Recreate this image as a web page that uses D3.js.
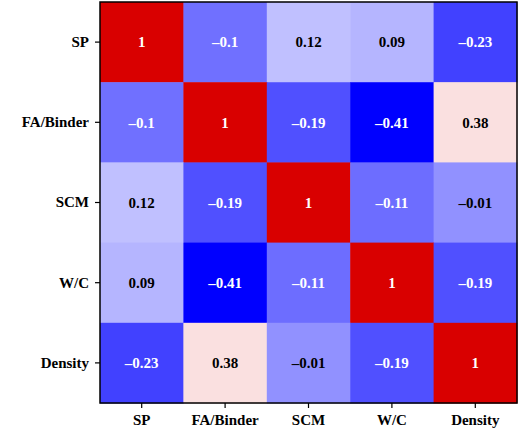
<!DOCTYPE html><html><head><meta charset="utf-8"><script src="https://cdn.jsdelivr.net/npm/d3@7"></script>
<style>body{margin:0;background:#fff}text{font-family:"Liberation Serif","Times New Roman",serif;font-weight:bold}</style></head><body>
<script>
const categories=["SP","FA/Binder","SCM","W/C","Density"];
const values=[[1,-0.1,0.12,0.09,-0.23],[-0.1,1,-0.19,-0.41,0.38],[0.12,-0.19,1,-0.11,-0.01],[0.09,-0.41,-0.11,1,-0.19],[-0.23,0.38,-0.01,-0.19,1]];
const fmt=v=>v===1?"1":String(v).replace("-","\u2013").replace(/^(\u2013?)0\./,"$10.");
const W=520,H=438,m={l:100,t:2,r:3,b:35};
const svg=d3.select("body").append("svg").attr("width",W).attr("height",H);
const x=d3.scaleBand().domain(categories).range([m.l,W-m.r]);
const y=d3.scaleBand().domain(categories).range([m.t,H-m.b]);
const color=d3.scaleLinear().domain([-0.41,0.295,1]).range(["#0000ff","#ffffff","#d90000"]);
const cells=[];values.forEach((r,i)=>r.forEach((v,j)=>cells.push({r:categories[i],c:categories[j],v})));
svg.selectAll("rect.c").data(cells).join("rect").attr("x",d=>x(d.c)).attr("y",d=>y(d.r)).attr("width",x.bandwidth()+0.5).attr("height",y.bandwidth()+0.5).attr("fill",d=>color(d.v));
svg.selectAll("text.v").data(cells).join("text").attr("x",d=>x(d.c)+x.bandwidth()/2).attr("y",d=>y(d.r)+y.bandwidth()/2).attr("dy","0.35em").attr("text-anchor","middle").attr("font-size",15).attr("fill",d=>(d.v<-0.05||d.v>0.8)?"#fff":"#000").text(d=>fmt(d.v));
svg.append("rect").attr("x",m.l).attr("y",m.t).attr("width",W-m.l-m.r).attr("height",H-m.t-m.b).attr("fill","none").attr("stroke","#000").attr("stroke-width",1.5);
const ax=svg.append("g").attr("transform",`translate(0,${H-m.b})`).call(d3.axisBottom(x).tickSize(5).tickPadding(6));
const ay=svg.append("g").attr("transform",`translate(${m.l},0)`).call(d3.axisLeft(y).tickSize(5).tickPadding(6));
[ax,ay].forEach(a=>{a.select(".domain").remove();a.selectAll("text").attr("font-size",15).attr("fill","#000").style("font-family","Liberation Serif").style("font-weight","bold");a.selectAll("line").attr("stroke","#000").attr("stroke-width",1.2);});
</script></body></html>
